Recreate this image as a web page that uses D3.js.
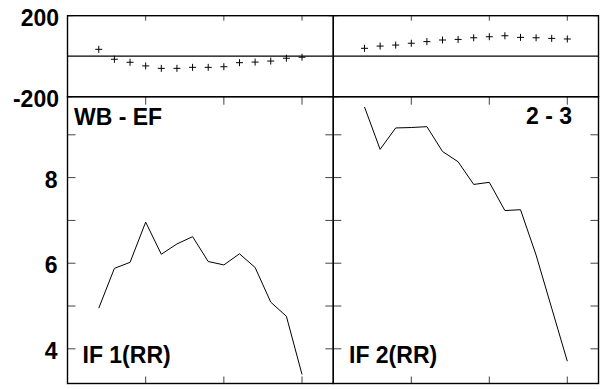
<!DOCTYPE html>
<html><head><meta charset="utf-8">
<script src="https://cdn.jsdelivr.net/npm/d3@7"></script>
<style>
html,body{margin:0;padding:0;background:#fff;}
text{font-family:"Liberation Sans",Arial,sans-serif;font-weight:bold;font-size:23px;fill:#000;}
</style></head>
<body>
<svg id="c" width="600" height="389"></svg>
<script>
// Data
const xValues = [2,3,4,5,6,7,8,9,10,11,12,13,14,15];
const resid1 = [34,-15,-30,-48,-60,-60,-55,-55,-52,-32,-29,-24,-10,-5];
const resid2 = [39,50,55,64,72,80,83,91,96,101,93,91,88,85];
const main1 = [4.95,5.88,6.02,6.96,6.21,6.45,6.62,6.04,5.96,6.22,5.90,5.09,4.76,3.40];
const main2 = [9.65,8.66,9.16,9.17,9.19,8.61,8.37,7.84,7.89,7.23,7.25,6.19,4.95,3.71];
const xTicks = [5,10,15];
const residTicks = [200,-200];
const mainTicks = [4,5,6,7,8,9];
const mainLabels = [4,6,8];
const topLabels = ["WB - EF","2 - 3"];
const bottomLabels = ["IF 1(RR)","IF 2(RR)"];

const svg = d3.select("#c");
const L = 67.5, M = 333.3, R = 598.5;
const T = 15.7, S = 96.7, B = 383.5;

const panels = [
  {x0:L, x1:M, resid:resid1, main:main1},
  {x0:M, x1:R, resid:resid2, main:main2}
];
const yR = d3.scaleLinear().domain([-200,200]).range([S,T]);
const yM = d3.scaleLinear().domain([3.19,9.89]).range([B,S]);
const tickCol = "#444";

panels.forEach((p,i)=>{
  const x = d3.scaleLinear().domain([0,17]).range([p.x0,p.x1]);
  const g = svg.append("g");
  // x ticks: top of residual panel (down), mid boundary (down), bottom (up)
  xTicks.forEach(t=>{
    const xx = x(t);
    g.append("line").attr("x1",xx).attr("x2",xx).attr("y1",T).attr("y2",T+5).attr("stroke",tickCol);
    g.append("line").attr("x1",xx).attr("x2",xx).attr("y1",S).attr("y2",S+8).attr("stroke",tickCol);
    g.append("line").attr("x1",xx).attr("x2",xx).attr("y1",B).attr("y2",B-7).attr("stroke",tickCol);
  });
  // y ticks main panel, both sides inward
  mainTicks.forEach(t=>{
    const yy = yM(t);
    g.append("line").attr("x1",p.x0).attr("x2",p.x0+8).attr("y1",yy).attr("y2",yy).attr("stroke",tickCol);
    g.append("line").attr("x1",p.x1).attr("x2",p.x1-8).attr("y1",yy).attr("y2",yy).attr("stroke",tickCol);
  });
  // residual ticks
  residTicks.forEach(t=>{
    const yy = yR(t);
    g.append("line").attr("x1",p.x0).attr("x2",p.x0+5).attr("y1",yy).attr("y2",yy).attr("stroke",tickCol);
    g.append("line").attr("x1",p.x1).attr("x2",p.x1-5).attr("y1",yy).attr("y2",yy).attr("stroke",tickCol);
  });
  // zero line
  g.append("line").attr("x1",p.x0).attr("x2",p.x1).attr("y1",yR(0)).attr("y2",yR(0)).attr("stroke","#000").attr("stroke-width",1.2);
  // residual crosses
  const a = 3.5;
  p.resid.forEach((v,k)=>{
    const cx = x(xValues[k]), cy = yR(v);
    g.append("path").attr("d",`M${cx-a},${cy}H${cx+a}M${cx},${cy-a}V${cy+a}`).attr("stroke","#000").attr("stroke-width",1).attr("fill","none");
  });
  // main line
  const line = d3.line().x((d,k)=>x(xValues[k])).y(d=>yM(d));
  g.append("path").datum(p.main).attr("d",line).attr("fill","none").attr("stroke","#000").attr("stroke-width",1);
  // borders
  g.append("rect").attr("x",p.x0).attr("y",T).attr("width",p.x1-p.x0).attr("height",S-T).attr("fill","none").attr("stroke","#000").attr("stroke-width",1.4);
  g.append("rect").attr("x",p.x0).attr("y",S).attr("width",p.x1-p.x0).attr("height",B-S).attr("fill","none").attr("stroke","#000").attr("stroke-width",1.4);
});

// y labels
residTicks.forEach(t=>{
  svg.append("text").attr("x",59).attr("y",yR(t)+10).attr("text-anchor","end").text(t);
});
mainLabels.forEach(t=>{
  svg.append("text").attr("x",57.5).attr("y",yM(t)+10).attr("text-anchor","end").text(t);
});
// panel labels
svg.append("text").attr("x",74).attr("y",125).text(topLabels[0]);
svg.append("text").attr("x",572).attr("y",124).attr("text-anchor","end").text(topLabels[1]);
svg.append("text").attr("x",82.5).attr("y",362.5).text(bottomLabels[0]);
svg.append("text").attr("x",349).attr("y",362.5).text(bottomLabels[1]);
</script>
</body></html>
